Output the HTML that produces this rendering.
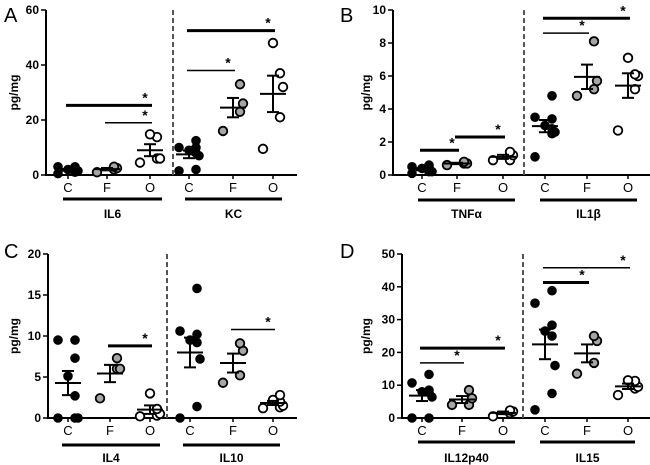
<!DOCTYPE html>
<html><head><meta charset="utf-8"><style>
html,body{margin:0;padding:0;background:#fff;width:650px;height:465px;overflow:hidden}
svg text{font-family:"Liberation Sans",sans-serif}
</style></head><body>
<svg id="fig" width="650" height="465" viewBox="0 0 650 465" xmlns="http://www.w3.org/2000/svg"></svg>
<script>
// ---- data ----
const groupLabels = ["C","F","O"];
const panelLetters = ["A","B","C","D"];
const cytokinesA = ["IL6","KC"];
const cytokinesB = ["TNFα","IL1β"];
const cytokinesC = ["IL4","IL10"];
const cytokinesD = ["IL12p40","IL15"];
const ticksA = [0,20,40,60];
const ticksB = [0,2,4,6,8,10];
const ticksC = [0,5,10,15,20];
const ticksD = [0,10,20,30,40,50];
const valuesA = [
  [[2,3,1,2,0.5,3,1.5,2],[2.5,3,1,2],[14.8,13.8,6,4.5,6]],
  [[12.5,10,9,10,7,8,2,1.5],[33,26,23,16],[48,37,32,21,9.5]]
];
const valuesB = [
  [[0.5,0.6,0.4,0.2,0.1,0.5,0.3,0.2],[0.7,0.8,0.6,0.7],[1.4,1.2,0.9,0.9]],
  [[4.8,3.5,3.4,3.0,2.8,2.5,2.6,1.1],[8.1,5.7,5.2,4.8],[7.1,6.1,6.0,5.2,2.7]]
];
const valuesC = [
  [[9.5,9.5,7.3,5.1,2.7,0,0,0],[7.3,6,6,2.4],[3,1.1,0.5,0.2,0.3]],
  [[15.8,10.2,10.6,9.5,9.2,7.2,1.4,0],[9.1,8.2,5.2,4.3],[2.8,2.2,1.5,1.3,1.2,2]]
];
const valuesD = [
  [[10.7,13.3,8.5,7.8,6.4,0,0,8],[8.5,6,4,4],[2.3,2,1.5,0.5]],
  [[38.8,35,28.3,26.5,25,16,7.5,2.5],[25,23.5,16.8,13.5],[11.5,11.3,9.5,9,7]]
];
const sigA = [[0,0,2,25.3,1],[0,1,2,19,0],[1,0,1,38,0],[1,0,2,52.5,1]];
const sigB = [[0,0,1,1.5,1],[0,1,2,2.3,1],[1,0,1,8.6,0],[1,0,2,9.5,1]];
const sigC = [[0,1,2,8.8,1],[1,1,2,10.8,0]];
const sigD = [[0,0,1,16.8,0],[0,0,2,21.3,1],[1,0,1,41.3,1],[1,0,2,45.8,0]];

const panels = [
  {letter:panelLetters[0],cyt:cytokinesA,ticks:ticksA,vals:valuesA,sig:sigA,ax:46,y0:175,yTop:10,xEnd:297,cats:[68,107,150,189,233,273],dash:173,bars:[[63,162],[185,282]],barY:199,lblY:218,lx:4,ly:22,ylx:18},
  {letter:panelLetters[1],cyt:cytokinesB,ticks:ticksB,vals:valuesB,sig:sigB,ax:393,y0:175,yTop:10,xEnd:650,cats:[422,457,503,545,587,628],dash:524,bars:[[418,515],[540,637]],barY:200,lblY:218,lx:340,ly:22,ylx:370},
  {letter:panelLetters[2],cyt:cytokinesC,ticks:ticksC,vals:valuesC,sig:sigC,ax:48,y0:418,yTop:254,xEnd:297,cats:[68,110,150,190,233,273],dash:167,bars:[[62,160],[183,280]],barY:445,lblY:462,lx:4,ly:258,ylx:18},
  {letter:panelLetters[3],cyt:cytokinesD,ticks:ticksD,vals:valuesD,sig:sigD,ax:402,y0:418,yTop:254,xEnd:650,cats:[422,462,503,545,587,628],dash:523,bars:[[418,515],[540,635]],barY:442,lblY:462,lx:340,ly:258,ylx:370}
];
const svg = document.getElementById('fig');
const NS = "http://www.w3.org/2000/svg";
function mk(tag, attrs, parent){
  const e = document.createElementNS(NS, tag);
  for (const k in attrs) e.setAttribute(k, attrs[k]);
  (parent||svg).appendChild(e);
  return e;
}
const fills = ["#000","#a6a6a6","#fff"];
const jit = [[0],[-7,7],[-10,0,10],[-12,-4,4,12],[-13,-6,0,6,13]];

panels.forEach((p) => {
  const g = mk('g', {});
  
  
  const max = p.ticks[p.ticks.length-1];
  const Y = v => p.y0 - (v/max)*(p.y0 - p.yTop);
  const L = mk('text', {x:p.lx, y:p.ly, 'font-size':20}, g); L.textContent = p.letter;
   
  const yl = mk('text', {x:p.ylx, y:(p.y0+p.yTop)/2, 'font-size':12, 'font-weight':'bold', 'text-anchor':'middle', transform:`rotate(-90 ${p.ylx} ${(p.y0+p.yTop)/2})`}, g);
  yl.textContent = 'pg/mg';
   
  const ya = mk('line', {x1:p.ax, y1:p.yTop, x2:p.ax, y2:p.y0+1, stroke:'#000','stroke-width':2}, g);
   
  const xa = mk('line', {x1:p.ax-1, y1:p.y0, x2:p.xEnd, y2:p.y0, stroke:'#000','stroke-width':2}, g);
   
  p.ticks.forEach(t => {
    mk('line', {x1:p.ax-5, y1:Y(t), x2:p.ax, y2:Y(t), stroke:'#000','stroke-width':1.5}, g);
    const tl = mk('text', {x:p.ax-7, y:Y(t)+4, 'font-size':12, 'font-weight':'bold', 'text-anchor':'end'}, g);
    tl.textContent = t;
     
  });
  p.cats.forEach((cx, ci) => {
    mk('line', {x1:cx, y1:p.y0, x2:cx, y2:p.y0+4, stroke:'#000','stroke-width':1.5}, g);
    const cl = mk('text', {x:cx, y:p.y0+17, 'font-size':13, 'text-anchor':'middle'}, g);
    cl.textContent = groupLabels[ci%3];
     
  });
  const dl = mk('line', {x1:p.dash, y1:p.yTop, x2:p.dash, y2:p.y0, stroke:'#555','stroke-width':2,'stroke-dasharray':'5,3'}, g);
   
  p.bars.forEach((b, bi) => {
    mk('line', {x1:b[0], y1:p.barY, x2:b[1], y2:p.barY, stroke:'#000','stroke-width':3}, g);
    const gl = mk('text', {x:(b[0]+b[1])/2, y:p.lblY, 'font-size':12, 'font-weight':'bold', 'text-anchor':'middle'}, g);
    gl.textContent = p.cyt[bi];
     
  });
  p.vals.forEach((cyt, k) => {
    cyt.forEach((pts, gi) => {
      const cx = p.cats[k*3+gi];
      const n = pts.length;
      const mean = pts.reduce((a,b)=>a+b,0)/n;
      const sd = Math.sqrt(pts.reduce((a,b)=>a+(b-mean)*(b-mean),0)/(n-1));
      const sem = sd/Math.sqrt(n);
      const order = pts.map((v,i)=>[v,i]).sort((a,b)=>a[0]-b[0]);
      order.forEach(([v,i], r) => {
        const js = jit[Math.min(4, (r%2===0? Math.min(n,3):Math.min(n,2))-1)];
        const off = js[r % js.length];
        const c = mk('circle', {cx:cx+off, cy:Y(v), r:4.3, fill:fills[gi], stroke:'#000','stroke-width':gi===0?1:1.8}, g);
         
      });
      mk('line', {x1:cx-13, y1:Y(mean), x2:cx+13, y2:Y(mean), stroke:'#000','stroke-width':2}, g);
      mk('line', {x1:cx, y1:Y(mean-sem), x2:cx, y2:Y(mean+sem), stroke:'#000','stroke-width':2}, g);
      mk('line', {x1:cx-6, y1:Y(mean+sem), x2:cx+6, y2:Y(mean+sem), stroke:'#000','stroke-width':2}, g);
      mk('line', {x1:cx-6, y1:Y(mean-sem), x2:cx+6, y2:Y(mean-sem), stroke:'#000','stroke-width':2}, g);
    });
  });
  p.sig.forEach(s => {
    const x1 = p.cats[s[0]*3+s[1]]-2, x2 = p.cats[s[0]*3+s[2]]+2, y = Y(s[3]);
    const sl = mk('line', {x1:x1, y1:y, x2:x2, y2:y, stroke:'#000','stroke-width':s[4]?3:1.5}, g);
     
    const st = mk('text', {x:x2-7, y:y-3, 'font-size':14, 'font-weight':'bold', 'text-anchor':'middle'}, g);
    st.textContent = '*';
     
  });
});
</script>
</body></html>
